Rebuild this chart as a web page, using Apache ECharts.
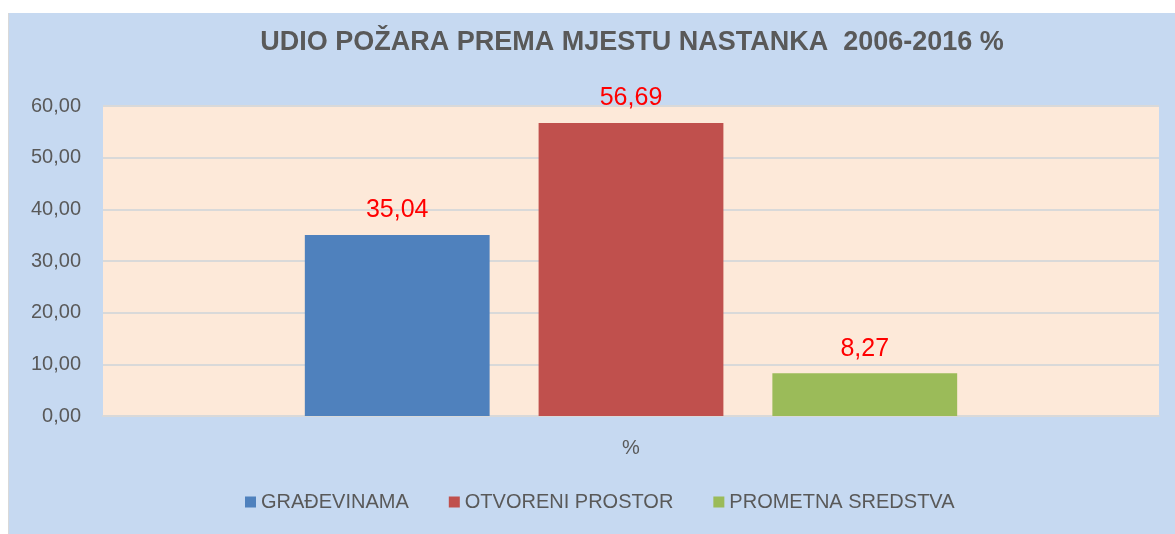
<!DOCTYPE html>
<html>
<head>
<meta charset="utf-8">
<script src="https://cdn.jsdelivr.net/npm/echarts@6/dist/echarts.min.js"></script>
<style>
  html, body { margin: 0; padding: 0; background: #fff; }
  #wrap { position: relative; width: 1175px; height: 534px; }
  #edge { position: absolute; left: 8px; top: 13px; width: 1px; height: 521px; background: #d9d9d9; }
  #chart { position: absolute; left: 9px; top: 13px; width: 1166px; height: 521px; }
</style>
</head>
<body>
<div id="wrap"><div id="edge"></div><div id="chart"></div></div>
<script>
const categories = ["%"];
const seriesNames = ["GRAĐEVINAMA", "OTVORENI PROSTOR", "PROMETNA SREDSTVA"];
const seriesValues = [[35.04], [56.69], [8.27]];
const seriesColors = ["#4f81bd", "#c0504d", "#9bbb59"];
const yTicks = { min: 0, max: 60, interval: 10 };

const FONT = "'Liberation Sans Narrow', 'Liberation Sans', sans-serif";
const comma = (v, d) => Number(v).toFixed(d).replace(".", ",");

const chart = echarts.init(document.getElementById("chart"));

const series = seriesNames.map((name, i) => ({
  name,
  type: "bar",
  data: seriesValues[i],
  barWidth: "17.5%",
  barGap: "26.5%",
  itemStyle: { color: seriesColors[i] },
  label: {
    show: true,
    position: "top",
    distance: 12,
    color: "#ff0000",
    fontSize: 25,
    fontFamily: FONT,
    formatter: (p) => comma(p.value, 2),
  },
}));

chart.setOption({
  backgroundColor: "#c6d9f1",
  animation: false,
  title: {
    text: "UDIO POŽARA PREMA MJESTU NASTANKA  2006-2016 %",
    left: 623,
    textAlign: "center",
    top: 16,
    padding: 0,
    textStyle: { fontFamily: FONT, fontWeight: "bold", fontSize: 27, color: "#595959" },
  },
  grid: {
    left: 94,
    right: 16,
    top: 93,
    height: 310,
    show: true,
    backgroundColor: "#fde9d9",
    borderWidth: 0,
  },
  legend: {
    bottom: 17,
    left: 231,
    itemWidth: 11,
    itemHeight: 11,
    itemGap: 40,
    icon: "rect",
    textStyle: { fontFamily: FONT, fontSize: 20, color: "#595959" },
    data: seriesNames,
  },
  xAxis: {
    type: "category",
    data: categories,
    axisLine: { lineStyle: { color: "#d9d9d9", width: 2 } },
    axisTick: { show: false },
    axisLabel: { fontFamily: FONT, fontSize: 20, color: "#595959", margin: 22 },
  },
  yAxis: {
    type: "value",
    min: yTicks.min,
    max: yTicks.max,
    interval: yTicks.interval,
    axisLine: { show: false },
    axisTick: { show: false },
    splitLine: { lineStyle: { color: "#d9d9d9", width: 2 } },
    axisLabel: {
      fontFamily: FONT,
      fontSize: 20,
      color: "#595959",
      margin: 22,
      formatter: (v) => comma(v, 2),
    },
  },
  series,
});
</script>
</body>
</html>
